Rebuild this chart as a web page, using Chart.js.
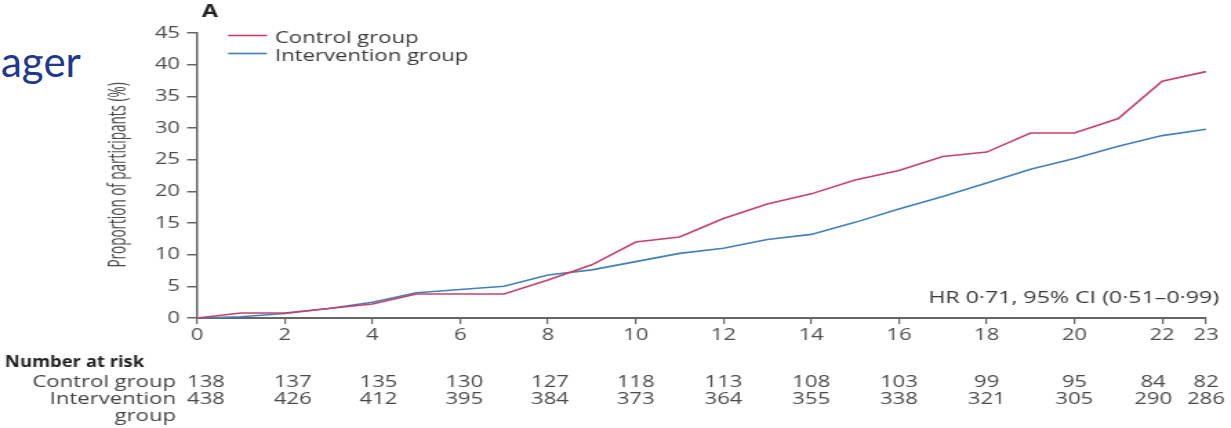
<!DOCTYPE html>
<html>
<head>
<meta charset="utf-8">
<script src="https://cdn.jsdelivr.net/npm/chart.js@4/dist/chart.umd.min.js"></script>
<style>
  html, body { margin: 0; padding: 0; background: #fff; overflow: hidden; }
  body { width: 1231px; height: 428px; position: relative; }
  #slideText {
    position: absolute; left: 1px; top: 40px;
    font-family: Lato, "DejaVu Sans", sans-serif; font-size: 42px; line-height: 42px;
    color: #1f3a8c; white-space: nowrap;
  }
  #wrap { position: absolute; left: 0; top: 0; transform-origin: 0 0; }
  canvas { display: block; }
</style>
</head>
<body>
<div id="slideText">ager</div>
<div id="wrap"><canvas id="km"></canvas></div>
<script>
// Follow-up time (months) and cumulative proportion of participants (%)
const months = [0, 1, 2, 3, 4, 5, 6, 7, 8, 9, 10, 11, 12, 13, 14, 15, 16, 17, 18, 19, 20, 21, 22, 23];
const controlPct = [0, 0.8, 0.8, 1.5, 2.2, 3.8, 3.8, 3.8, 6.0, 8.4, 12.0, 12.8, 15.7, 18.0, 19.6, 21.8, 23.3, 25.5, 26.2, 29.2, 29.2, 31.5, 37.4, 38.9];
const interventionPct = [0, 0.2, 0.7, 1.5, 2.5, 4.0, 4.5, 5.0, 6.8, 7.6, 8.9, 10.2, 11.0, 12.4, 13.2, 15.1, 17.2, 19.2, 21.3, 23.5, 25.2, 27.1, 28.8, 29.8];

// Axis ticks
const xTickValues = [0, 2, 4, 6, 8, 10, 12, 14, 16, 18, 20, 22, 23];
const yTickValues = [0, 5, 10, 15, 20, 25, 30, 35, 40, 45];

// Number at risk table
const riskMonths = [0, 2, 4, 6, 8, 10, 12, 14, 16, 18, 20, 22, 23];
const controlAtRisk = [138, 137, 135, 130, 127, 118, 113, 108, 103, 99, 95, 84, 82];
const interventionAtRisk = [438, 426, 412, 395, 384, 373, 364, 355, 338, 321, 305, 290, 286];

const seriesLabels = ['Control group', 'Intervention group'];
const hrText = 'HR 0\u00B771, 95% CI (0\u00B751\u20130\u00B799)';

// The figure is drawn at a narrower width and stretched horizontally
const SX = 1.38;
const W = Math.round(1231 / SX);
const H = 428;
const px = v => v / SX;

const wrap = document.getElementById('wrap');
wrap.style.transform = 'scaleX(' + SX + ')';
const canvas = document.getElementById('km');
canvas.width = W; canvas.height = H;
canvas.style.width = W + 'px'; canvas.style.height = H + 'px';

const RED = '#c7416a';
const BLUE = '#4080bb';
const AXIS = '#666666';
const TICK_TXT = '#505050';
const FONT = '"Open Sans", "Noto Sans", sans-serif';

const extras = {
  id: 'extras',
  afterDraw(chart) {
    const ctx = chart.ctx;
    const xs = chart.scales.x;
    ctx.save();

    // panel letter
    ctx.fillStyle = '#222';
    ctx.font = 'bold 17px ' + FONT;
    ctx.textAlign = 'center';
    ctx.textBaseline = 'middle';
    ctx.fillText('A', px(210), 12);

    // legend
    const legendY = [35.5, 53.5];
    const colors = [RED, BLUE];
    ctx.lineWidth = 1.6;
    ctx.font = '16px ' + FONT;
    ctx.textAlign = 'left';
    ctx.textBaseline = 'alphabetic';
    for (let i = 0; i < 2; i++) {
      ctx.strokeStyle = colors[i];
      ctx.beginPath();
      ctx.moveTo(px(228), legendY[i]);
      ctx.lineTo(px(267), legendY[i]);
      ctx.stroke();
      ctx.fillStyle = '#3a3a3a';
      ctx.fillText(seriesLabels[i], px(275), legendY[i] + 7);
    }

    // y-axis title, set in a condensed width
    ctx.save();
    ctx.translate(px(118), 175);
    ctx.rotate(-Math.PI / 2);
    ctx.scale(0.75, 1);
    ctx.font = '18px ' + FONT;
    ctx.fillStyle = '#4a4a4a';
    ctx.textAlign = 'center';
    ctx.textBaseline = 'middle';
    ctx.fillText('Proportion of participants (%)', 0, 0);
    ctx.restore();

    // hazard ratio note
    ctx.font = '16.8px ' + FONT;
    ctx.fillStyle = '#3a3a3a';
    ctx.textAlign = 'right';
    ctx.textBaseline = 'alphabetic';
    ctx.fillText(hrText, px(1219), 303);

    // number at risk
    ctx.save();
    ctx.translate(px(5), 367);
    ctx.scale(0.86, 1);
    ctx.fillStyle = '#222';
    ctx.font = 'bold 15.5px ' + FONT;
    ctx.textAlign = 'left';
    ctx.fillText('Number at risk', 0, 0);
    ctx.restore();

    ctx.fillStyle = '#444';
    ctx.font = '16px ' + FONT;
    ctx.textAlign = 'right';
    ctx.fillText('Control group', px(176), 387);
    ctx.fillText('Intervention', px(176), 404);
    ctx.fillText('group', px(176), 421);

    const nudge = [9, 8, 6, 4, 2, 0, 0, 0, 0, 0, 0, -9, 0];
    ctx.textAlign = 'center';
    ctx.fillStyle = '#4a4a4a';
    riskMonths.forEach((m, i) => {
      const x = xs.getPixelForValue(m) + px(nudge[i]);
      ctx.fillText(String(controlAtRisk[i]), x, 387);
      ctx.fillText(String(interventionAtRisk[i]), x, 404);
    });

    ctx.restore();
  }
};

new Chart(canvas, {
  type: 'line',
  data: {
    datasets: [
      {
        label: seriesLabels[0],
        data: months.map((m, i) => ({ x: m, y: controlPct[i] })),
        borderColor: RED, borderWidth: 1.6, pointRadius: 0, tension: 0, fill: false, clip: 4
      },
      {
        label: seriesLabels[1],
        data: months.map((m, i) => ({ x: m, y: interventionPct[i] })),
        borderColor: BLUE, borderWidth: 1.6, pointRadius: 0, tension: 0, fill: false, clip: 4
      }
    ]
  },
  options: {
    responsive: false,
    animation: false,
    devicePixelRatio: 1,
    layout: { padding: { left: 0, right: W - px(1206), top: 33, bottom: 0 } },
    plugins: { legend: { display: false }, tooltip: { enabled: false }, title: { display: false } },
    scales: {
      x: {
        type: 'linear', position: 'bottom', min: 0, max: 23,
        afterFit(s) { s.height = H - 318; },
        afterBuildTicks(s) { s.ticks = xTickValues.map(v => ({ value: v })); },
        ticks: {
          font: { family: FONT, size: 16 }, color: TICK_TXT, padding: 2,
          maxRotation: 0, autoSkip: false, callback: v => String(v)
        },
        grid: { drawOnChartArea: false, drawTicks: true, tickLength: 6, color: AXIS, lineWidth: 1.2 },
        border: { color: AXIS, width: 2 }
      },
      y: {
        type: 'linear', position: 'left', min: 0, max: 45,
        afterFit(s) { s.width = px(197); },
        afterBuildTicks(s) { s.ticks = yTickValues.map(v => ({ value: v })); },
        ticks: {
          font: { family: FONT, size: 16 }, color: TICK_TXT, padding: 5,
          autoSkip: false, callback: v => String(v)
        },
        grid: { drawOnChartArea: false, drawTicks: true, tickLength: px(10), color: AXIS, lineWidth: 1.5 },
        border: { color: AXIS, width: 1.5 }
      }
    }
  },
  plugins: [extras]
});
</script>
</body>
</html>
